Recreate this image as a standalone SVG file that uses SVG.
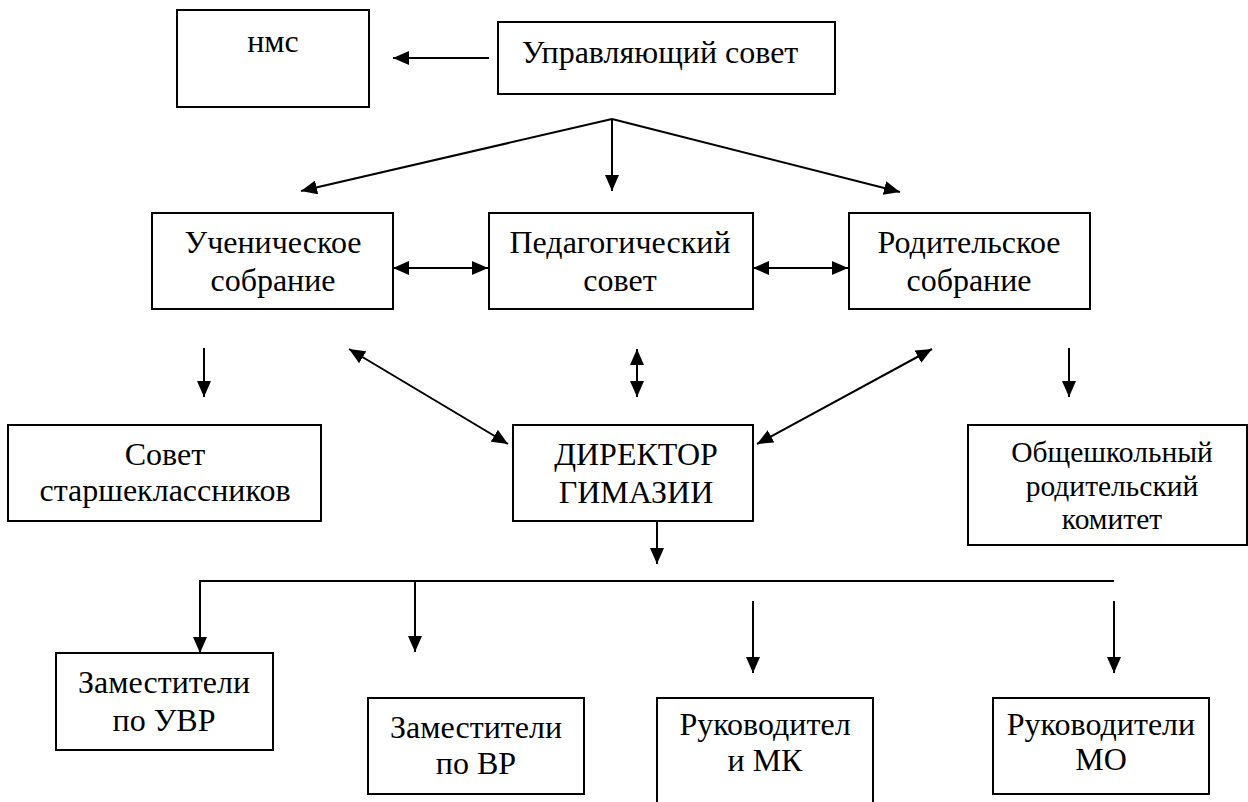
<svg xmlns="http://www.w3.org/2000/svg" width="1248" height="802" viewBox="0 0 1248 802" font-family="'Liberation Serif', 'Times New Roman', serif">
<style>
.box{fill:#fff;stroke:#000;stroke-width:2}
.t{font-family:'Liberation Serif','Times New Roman',serif;font-size:32px;fill:#000;text-anchor:middle}
.s{font-size:29.5px}
.c{fill:none;stroke:#000;stroke-width:2}
.a{marker-end:url(#ah)}
.d{marker-start:url(#ah);marker-end:url(#ah)}
</style>
<defs>
<marker id="ah" markerUnits="userSpaceOnUse" markerWidth="16" markerHeight="14" refX="16" refY="7" orient="auto-start-reverse" viewBox="0 0 16 14">
<path d="M0,0 L16,7 L0,14 z" fill="#000"/>
</marker>
</defs>
<rect width="1248" height="802" fill="#fff"/>
<g id="connectors">
<line class="c a" x1="489" y1="58" x2="393" y2="58"/>
<line class="c a" x1="612" y1="119" x2="301" y2="191"/>
<line class="c a" x1="612" y1="119" x2="612" y2="191"/>
<line class="c a" x1="612" y1="119" x2="900" y2="192"/>
<line class="c d" x1="393" y1="268" x2="488" y2="268"/>
<line class="c d" x1="753" y1="268" x2="848" y2="268"/>
<line class="c a" x1="204" y1="348" x2="204" y2="397"/>
<line class="c d" x1="637" y1="349" x2="637" y2="397"/>
<line class="c d" x1="349" y1="349" x2="508" y2="444"/>
<line class="c d" x1="932" y1="349" x2="757" y2="444"/>
<line class="c a" x1="1069" y1="348" x2="1069" y2="397"/>
<line class="c a" x1="657" y1="517" x2="657" y2="564"/>
<line class="c" x1="199" y1="581" x2="1114" y2="581"/>
<line class="c a" x1="200" y1="581" x2="200" y2="653"/>
<line class="c a" x1="415" y1="581" x2="415" y2="652"/>
<line class="c a" x1="753" y1="601" x2="753" y2="673"/>
<line class="c a" x1="1114" y1="601" x2="1114" y2="673"/>
</g>
<g id="nms">
<rect class="box" x="177" y="10" width="192" height="97"/>
<text class="t" x="273" y="52">нмс</text>
</g>
<g id="upravl">
<rect class="box" x="498" y="22" width="337" height="72"/>
<text class="t" x="660" y="63">Управляющий совет</text>
</g>
<g id="uchen">
<rect class="box" x="152" y="213" width="241" height="96"/>
<text class="t" x="273" y="253">Ученическое</text>
<text class="t" x="273" y="291">собрание</text>
</g>
<g id="ped">
<rect class="box" x="489" y="213" width="264" height="96"/>
<text class="t" x="620" y="253">Педагогический</text>
<text class="t" x="620" y="291">совет</text>
</g>
<g id="rod">
<rect class="box" x="849" y="213" width="241" height="96"/>
<text class="t" x="969" y="253">Родительское</text>
<text class="t" x="969" y="291">собрание</text>
</g>
<g id="sovet">
<rect class="box" x="8" y="425" width="313" height="96"/>
<text class="t" x="165" y="465">Совет</text>
<text class="t" x="165" y="501">старшеклассников</text>
</g>
<g id="director">
<rect class="box" x="513" y="425" width="240" height="96"/>
<text class="t" x="636" y="465">ДИРЕКТОР</text>
<text class="t" x="636" y="503">ГИМАЗИИ</text>
</g>
<g id="komitet">
<rect class="box" x="968" y="425" width="279" height="120"/>
<text class="t s" x="1112" y="462">Общешкольный</text>
<text class="t s" x="1112" y="496">родительский</text>
<text class="t s" x="1112" y="529">комитет</text>
</g>
<g id="zam-uvr">
<rect class="box" x="56" y="653" width="217" height="97"/>
<text class="t" x="164" y="693">Заместители</text>
<text class="t" x="164" y="731">по УВР</text>
</g>
<g id="zam-vr">
<rect class="box" x="368" y="698" width="216" height="96"/>
<text class="t" x="476" y="738">Заместители</text>
<text class="t" x="476" y="774">по ВР</text>
</g>
<g id="ruk-mk">
<rect class="box" x="657" y="698" width="216" height="120"/>
<text class="t" x="765" y="735">Руководител</text>
<text class="t" x="765" y="771">и МК</text>
</g>
<g id="ruk-mo">
<rect class="box" x="993" y="698" width="216" height="96"/>
<text class="t" x="1101" y="735">Руководители</text>
<text class="t" x="1101" y="770">МО</text>
</g>
</svg>
